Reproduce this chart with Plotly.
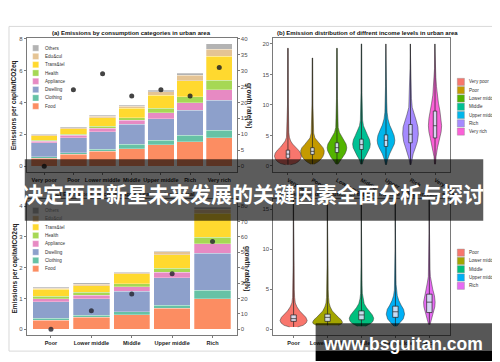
import plotly.graph_objects as go

W, H = 500, 362

# ---------------- data ----------------
income7 = ["Very poor", "Poor", "Lower middle", "Middle", "Upper middle", "Rich", "Very rich"]
income5 = ["Poor", "Lower middle", "Middle", "Upper middle", "Rich"]
categories = ["Food", "Clothing", "Dwelling", "Appliance", "Health", "Trans&tel", "Edu&cul", "Others"]
cat_colors = ["#FC8D62", "#66C2A5", "#8DA0CB", "#E78AC3", "#A6D854", "#FFD92F", "#E5C494", "#B3B3B3"]

# (a) urban emissions per capita by category (tCO2eq)
urban_food = [0.50, 0.75, 0.92, 1.10, 1.35, 1.52, 1.79]
urban_clothing = [0.08, 0.10, 0.14, 0.27, 0.28, 0.42, 0.48]
urban_dwelling = [0.88, 0.94, 1.09, 1.25, 1.35, 1.58, 1.88]
urban_appliance = [0.10, 0.15, 0.22, 0.25, 0.38, 0.46, 0.66]
urban_health = [0.06, 0.06, 0.15, 0.17, 0.28, 0.37, 0.59]
urban_trans = [0.30, 0.35, 0.52, 0.61, 0.80, 1.03, 1.50]
urban_edu = [0.05, 0.07, 0.10, 0.10, 0.22, 0.33, 0.45]
urban_others = [0.03, 0.04, 0.07, 0.08, 0.12, 0.14, 0.34]
urban_growth = [0, 24, 29, 22, 24, 22, 31]

# (c) rural emissions per capita by category (tCO2eq)
rural_food = [0.30, 0.39, 0.48, 0.68, 1.00]
rural_clothing = [0.06, 0.07, 0.09, 0.10, 0.27]
rural_dwelling = [0.53, 0.54, 0.67, 0.89, 1.20]
rural_appliance = [0.11, 0.11, 0.14, 0.19, 0.30]
rural_health = [0.08, 0.10, 0.10, 0.13, 0.22]
rural_trans = [0.22, 0.21, 0.32, 0.43, 0.77]
rural_edu = [0.04, 0.04, 0.04, 0.09, 0.13]
rural_others = [0.02, 0.05, 0.02, 0.03, 0.07]
rural_growth = [0, 12, 23, 36, 57]

# (b) urban distribution: box statistics
urban_colors = ["#F8766D", "#C49A00", "#53B400", "#00C094", "#00B6EB", "#A58AFF", "#FB61D7"]
urban_min = [0.2, 0.3, 0.3, 0.3, 0.2, 0.2, 0.3]
urban_q1 = [1.3, 1.9, 2.2, 2.7, 3.2, 3.8, 4.6]
urban_median = [1.95, 2.4, 3.0, 3.5, 4.2, 5.2, 6.6]
urban_q3 = [2.6, 3.0, 3.8, 4.4, 5.1, 6.8, 9.0]
urban_max = [19.3, 17.7, 19.3, 20.0, 20.0, 20.0, 20.0]
# (b) violin density profiles (levels and half-widths)
urban_levels = [
    [0.2, 0.4, 0.7, 1.1, 1.6, 2.1, 2.6, 3.1, 3.6, 4.1, 4.7, 5.5, 7, 10, 19.3],
    [0.3, 0.6, 1.0, 1.5, 2.0, 2.5, 3.0, 3.5, 4.0, 4.6, 5.4, 7, 10, 17.7],
    [0.3, 0.8, 1.4, 2.0, 2.5, 3.0, 3.6, 4.2, 4.8, 5.5, 6.3, 8, 11, 19.3],
    [0.3, 1.0, 1.7, 2.4, 3.0, 3.6, 4.3, 5.0, 5.8, 6.6, 7.5, 9, 12, 20],
    [0.2, 1.0, 2.0, 3.0, 3.6, 4.2, 5.0, 5.8, 6.7, 7.7, 8.8, 10.5, 13, 20],
    [0.2, 1.0, 2.0, 3.0, 4.0, 5.2, 6.4, 7.5, 8.5, 9.6, 11, 13, 16, 20],
    [0.3, 1.5, 3.0, 4.5, 5.6, 6.6, 7.8, 9.0, 10.3, 11.6, 13, 14.5, 16, 20],
]
urban_density = [
    [0.10, 0.30, 0.42, 0.51, 0.55, 0.52, 0.43, 0.30, 0.19, 0.11, 0.06, 0.035, 0.025, 0.018, 0.01],
    [0.06, 0.20, 0.32, 0.42, 0.47, 0.48, 0.43, 0.32, 0.20, 0.10, 0.05, 0.03, 0.02, 0.01],
    [0.04, 0.12, 0.24, 0.33, 0.38, 0.40, 0.37, 0.28, 0.18, 0.10, 0.05, 0.03, 0.02, 0.01],
    [0.03, 0.08, 0.18, 0.28, 0.34, 0.36, 0.33, 0.25, 0.15, 0.08, 0.045, 0.03, 0.02, 0.01],
    [0.02, 0.06, 0.15, 0.28, 0.34, 0.36, 0.33, 0.25, 0.15, 0.08, 0.045, 0.03, 0.02, 0.01],
    [0.02, 0.05, 0.11, 0.20, 0.28, 0.32, 0.30, 0.23, 0.14, 0.07, 0.04, 0.03, 0.02, 0.01],
    [0.02, 0.04, 0.10, 0.19, 0.25, 0.27, 0.25, 0.20, 0.14, 0.09, 0.06, 0.035, 0.02, 0.01],
]

# (d) rural distribution
rural_colors = ["#F8766D", "#A3A500", "#00BF7D", "#00B0F6", "#E76BF3"]
rural_min = [0.3, 0.5, 0.4, 0.4, 0.6]
rural_q1 = [1.0, 1.0, 1.2, 1.5, 2.1]
rural_median = [1.34, 1.5, 1.8, 2.2, 3.4]
rural_q3 = [1.8, 1.9, 2.3, 2.9, 4.4]
rural_max = [16.5, 16.5, 16.5, 16.5, 16.5]
rural_levels = [
    [0.3, 0.5, 0.8, 1.1, 1.5, 1.9, 2.3, 2.8, 3.3, 4.0, 5, 8, 16.5],
    [0.5, 0.7, 0.9, 1.2, 1.5, 1.9, 2.3, 2.8, 3.3, 4.0, 5, 8, 16.5],
    [0.4, 0.7, 1.0, 1.4, 1.8, 2.2, 2.7, 3.2, 3.8, 4.5, 5.5, 8, 16.5],
    [0.4, 0.8, 1.3, 1.9, 2.5, 3.0, 3.6, 4.2, 4.9, 5.6, 7, 10, 16.5],
    [0.6, 1.2, 2.0, 2.8, 3.4, 4.2, 5.0, 5.8, 6.6, 7.5, 9, 12, 16.5],
]
rural_density = [
    [0.12, 0.28, 0.37, 0.40, 0.36, 0.27, 0.18, 0.10, 0.05, 0.03, 0.02, 0.015, 0.01],
    [0.32, 0.42, 0.44, 0.40, 0.32, 0.22, 0.14, 0.08, 0.045, 0.03, 0.02, 0.015, 0.01],
    [0.12, 0.26, 0.34, 0.36, 0.32, 0.24, 0.15, 0.08, 0.045, 0.025, 0.018, 0.014, 0.01],
    [0.04, 0.13, 0.23, 0.27, 0.24, 0.17, 0.10, 0.055, 0.03, 0.02, 0.015, 0.012, 0.01],
    [0.02, 0.06, 0.12, 0.16, 0.17, 0.15, 0.10, 0.06, 0.03, 0.02, 0.015, 0.012, 0.01],
]

titles = [
    "(a) Emissions by consumption categories in urban area",
    "(b) Emission distribution of diffrent income levels in urban area",
    "(c) Emissions by consumption categories in rural area",
    "(d) Emission distribution of diffrent income levels in rural area",
]
ytitle_bar = "Emissions per capita/tCO2eq"
ytitle_growth = "growth rate(%)"
banner_text = "决定西甲新星未来发展的关键因素全面分析与探讨"
watermark_text = "www.bsguitan.com"

FONT = "Liberation Sans, Arial, sans-serif"


def px(x):
    return x / W


def py(y):
    return 1 - y / H


fig = go.Figure()

# ---------------- (a) and (c) stacked bars ----------------
urban_stack = [urban_food, urban_clothing, urban_dwelling, urban_appliance,
               urban_health, urban_trans, urban_edu, urban_others]
rural_stack = [rural_food, rural_clothing, rural_dwelling, rural_appliance,
               rural_health, rural_trans, rural_edu, rural_others]
for name, col, vals in zip(categories, cat_colors, urban_stack):
    fig.add_trace(go.Bar(x=income7, y=vals, name=name, width=0.9,
                         marker=dict(color=col, line=dict(width=0.4, color="rgba(255,255,255,0.7)")),
                         xaxis="x", yaxis="y", showlegend=False))
for name, col, vals in zip(categories, cat_colors, rural_stack):
    fig.add_trace(go.Bar(x=income5, y=vals, name=name, width=0.9,
                         marker=dict(color=col, line=dict(width=0.4, color="rgba(255,255,255,0.7)")),
                         xaxis="x4", yaxis="y4", showlegend=False))
fig.add_trace(go.Scatter(x=income7, y=urban_growth, mode="markers",
                         marker=dict(color="rgba(35,35,35,0.85)", size=5),
                         xaxis="x", yaxis="y2", showlegend=False))
fig.add_trace(go.Scatter(x=income5, y=rural_growth, mode="markers",
                         marker=dict(color="rgba(35,35,45,0.8)", size=5),
                         xaxis="x4", yaxis="y5", showlegend=False))


# ---------------- (b) and (d) violins ----------------
def add_violins(levels, dens, colors, xa, ya):
    for i, (ys, ws, col) in enumerate(zip(levels, dens, colors)):
        xs = [i + w for w in ws] + [i - w for w in reversed(ws)]
        yy = list(ys) + list(reversed(ys))
        fig.add_trace(go.Scatter(x=xs, y=yy, mode="lines", fill="toself", fillcolor=col,
                                 line=dict(color="#333333", width=0.5),
                                 xaxis=xa, yaxis=ya, showlegend=False, hoverinfo="skip"))


add_violins(urban_levels, urban_density, urban_colors, "x3", "y3")
add_violins(rural_levels, rural_density, rural_colors, "x6", "y6")

# boxes go on overlay axes so they sit above the violin fills
fig.add_trace(go.Box(x=list(range(len(income7))), q1=urban_q1, median=urban_median, q3=urban_q3,
                     lowerfence=urban_min, upperfence=urban_max, width=0.14, whiskerwidth=0,
                     orientation="v",
                     fillcolor="rgba(214,224,244,0.92)", line=dict(color="#222222", width=0.7),
                     boxpoints=False, xaxis="x7", yaxis="y7", showlegend=False))
fig.add_trace(go.Box(x=list(range(len(income5))), q1=rural_q1, median=rural_median, q3=rural_q3,
                     lowerfence=rural_min, upperfence=rural_max, width=0.16, whiskerwidth=0,
                     orientation="v",
                     fillcolor="rgba(214,224,244,0.92)", line=dict(color="#222222", width=0.7),
                     boxpoints=False, xaxis="x8", yaxis="y8", showlegend=False))

# ---------------- axes ----------------
tickfont = dict(size=6, color="#4d4d4d", family=FONT)
common = dict(showline=True, linecolor="#7a7a7a", linewidth=0.8, ticks="outside", ticklen=2,
              tickcolor="#7a7a7a", tickwidth=0.6, showgrid=False, zeroline=False, tickfont=tickfont)
xfont = dict(size=5.5, color="#222222", family=FONT)

A = (19, 232, 28, 163)
B = (269, 448, 28, 163)
C = (19, 232, 190, 327)
D = (269, 448, 190, 327)


def xd(p):
    return [px(p[0]), px(p[1])]


def yd(p):
    return [py(p[3]), py(p[2])]


hidden = dict(visible=False, showgrid=False, zeroline=False, type="linear")

fig.update_layout(
    xaxis=dict(common, domain=xd(A), anchor="y", type="category", range=[-0.6, 6.6], mirror=True,
               tickvals=income7, ticktext=["<b>%s</b>" % c for c in income7], tickfont=xfont),
    yaxis=dict(common, domain=yd(A), anchor="x", range=[-0.375, 8.06], tickvals=[0, 2, 4, 6, 8], mirror=True),
    yaxis2=dict(common, overlaying="y", anchor="x", side="right", range=[-1.875, 40.3],
                tickvals=[0, 5, 10, 15, 20, 25, 30, 35, 40]),
    xaxis3=dict(common, domain=xd(B), anchor="y3", type="linear", range=[-0.6, 6.6], mirror=True,
                tickvals=list(range(7)), ticktext=["<b>%s</b>" % c for c in income7], tickfont=xfont),
    yaxis3=dict(common, domain=yd(B), anchor="x3", type="linear", range=[-1, 21],
                tickvals=[0, 5, 10, 15, 20], mirror=True),
    xaxis7=dict(hidden, overlaying="x3", anchor="y7", range=[-0.6, 6.6]),
    yaxis7=dict(hidden, overlaying="y3", anchor="x7", range=[-1, 21]),
    xaxis4=dict(common, domain=xd(C), anchor="y4", type="category", range=[-0.6, 4.6], mirror=True,
                tickvals=income5, ticktext=["<b>%s</b>" % c for c in income5], tickfont=xfont),
    yaxis4=dict(common, domain=yd(C), anchor="x4", range=[-0.19, 4.23], tickvals=[0, 1, 2, 3, 4], mirror=True),
    yaxis5=dict(common, overlaying="y4", anchor="x4", side="right", range=[-3.8, 84.6],
                tickvals=[0, 10, 20, 30, 40, 50, 60, 70, 80]),
    xaxis6=dict(common, domain=xd(D), anchor="y6", type="linear", range=[-0.6, 4.6], mirror=True,
                tickvals=list(range(5)), ticktext=["<b>%s</b>" % c for c in income5], tickfont=xfont),
    yaxis6=dict(common, domain=yd(D), anchor="x6", type="linear", range=[-0.73, 16.3],
                tickvals=[0, 5, 10, 15], mirror=True),
    xaxis8=dict(hidden, overlaying="x6", anchor="y8", range=[-0.6, 4.6]),
    yaxis8=dict(hidden, overlaying="y6", anchor="x8", range=[-0.73, 16.3]),
    barmode="stack", boxmode="overlay",
    width=W, height=H, margin=dict(l=0, r=0, t=0, b=0),
    paper_bgcolor="white", plot_bgcolor="white", showlegend=False,
)

shapes = []
annotations = []

# outer light frame
shapes.append(dict(type="rect", xref="paper", yref="paper", x0=px(1), x1=px(499.5), y0=py(343), y1=py(16.5),
                   line=dict(color="#d9d9d9", width=1), fillcolor="rgba(0,0,0,0)", layer="below"))

# titles
for t, (x, y, anc) in zip(titles, [(125, 23, "center"), (271, 23, "left"), (125, 185, "center"), (271, 185, "left")]):
    annotations.append(dict(text="<b>%s</b>" % t, x=px(x), y=py(y), xref="paper", yref="paper",
                            xanchor=anc, yanchor="middle", showarrow=False,
                            font=dict(size=6, color="#111111", family=FONT)))

# axis titles
for (x, y, txt, ang) in [(7, 96, ytitle_bar, -90), (7, 260, ytitle_bar, -90),
                         (244, 96, ytitle_growth, 90), (243, 260, ytitle_growth, 90)]:
    annotations.append(dict(text="<b>%s</b>" % txt, x=px(x), y=py(y), xref="paper", yref="paper",
                            xanchor="center", yanchor="middle", showarrow=False, textangle=ang,
                            font=dict(size=6.5, color="#222222", family=FONT)))


# manual legends
def legend(labels, colors, x_sq, y_first, dy, sq, x_lab, edge):
    for k, (lab, col) in enumerate(zip(labels, colors)):
        yc = y_first + k * dy
        shapes.append(dict(type="rect", xref="paper", yref="paper",
                           x0=px(x_sq), x1=px(x_sq + sq), y0=py(yc + sq / 2), y1=py(yc - sq / 2),
                           fillcolor=col, line=dict(color=edge, width=0.4), layer="above"))
        annotations.append(dict(text=lab, x=px(x_lab), y=py(yc), xref="paper", yref="paper",
                                xanchor="left", yanchor="middle", showarrow=False,
                                font=dict(size=4.6, color="#333333", family=FONT)))


legend(categories[::-1], cat_colors[::-1], 25, 38.3, 8.35, 6.2, 35, "rgba(255,255,255,0.8)")
legend(categories[::-1], cat_colors[::-1], 25, 201.7, 8.35, 6.2, 35, "rgba(255,255,255,0.8)")
legend(income7, urban_colors, 455.7, 72.3, 8.33, 7.2, 466, "#888888")
legend(income5, rural_colors, 455.7, 244, 8.33, 7.2, 466, "#888888")

# banner overlay
shapes.append(dict(type="rect", xref="paper", yref="paper", x0=px(17), x1=px(482), y0=py(212), y1=py(150),
                   fillcolor="rgba(0,0,0,0.64)", line=dict(width=0), layer="above"))
annotations.append(dict(text="<b>%s</b>" % banner_text, x=px(248), y=py(184.5), xref="paper", yref="paper",
                        xanchor="center", yanchor="middle", showarrow=False,
                        font=dict(size=21, color="white", family="Noto Sans CJK SC")))

# watermark
shapes.append(dict(type="rect", xref="paper", yref="paper", x0=px(312), x1=px(491), y0=py(343), y1=py(315),
                   fillcolor="rgba(0,0,0,0.66)", line=dict(width=0), layer="above"))
shapes.append(dict(type="rect", xref="paper", yref="paper", x0=px(312), x1=px(491), y0=py(353), y1=py(343),
                   fillcolor="black", line=dict(width=0), layer="above"))
annotations.append(dict(text="<b>%s</b>" % watermark_text, x=px(401), y=py(336), xref="paper", yref="paper",
                        xanchor="center", yanchor="middle", showarrow=False,
                        font=dict(size=17.5, color="white", family="Liberation Sans, Arial, sans-serif")))

fig.update_layout(shapes=shapes, annotations=annotations)

fig.write_html("out.html")
